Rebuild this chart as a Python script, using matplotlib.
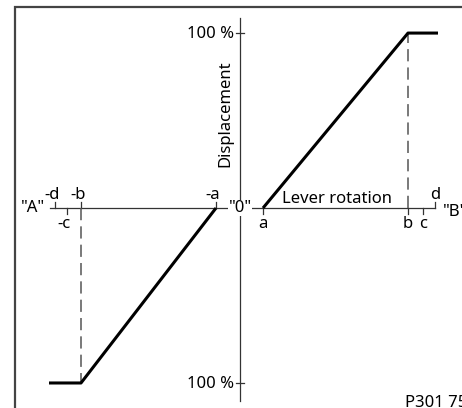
"""
Lever rotation vs displacement characteristic (P301 752).
"""

import matplotlib.pyplot as plt
from matplotlib.patches import Rectangle

plt.rcParams['font.family'] = ['Noto Sans', 'DejaVu Sans']

# lever rotation positions (arbitrary units)
tick_names = ["-d", "-c", "-b", "-a", "a", "b", "c", "d"]
tick_pos = [-185, -173, -159, -24, 23, 168, 183, 195]
tick_side = ["up", "down", "up", "up", "down", "down", "down", "up"]

# displacement curve (percent)
right_x = [23, 168, 198]
right_y = [0, 100, 100]
left_x = [-24, -159, -191]
left_y = [0, -100, -100]

full_scale = 100

FS = 12

fig = plt.figure(figsize=(4.62, 4.08), dpi=100)
ax = fig.add_axes([0, 0, 1, 1])
ax.set_xlim(-240, 222)
ax.set_ylim(-114.3, 118.9)
ax.axis('off')

# frame
fig.patches.append(Rectangle((15 / 462, -0.1), 1.2, 1 - 7 / 408 + 0.1, transform=fig.transFigure,
                             fill=False, edgecolor='#444444', linewidth=1.6))

# axes
ax.plot([-190, 195], [0, 0], color='#333333', lw=0.9)
ax.plot([0, 0], [-110.3, 108.6], color='#333333', lw=0.9)

tick_len = 3.4
for name, pos, side in zip(tick_names, tick_pos, tick_side):
    dx = -3 if name.startswith("-") else 0
    if side == "up":
        ax.plot([pos, pos], [0, tick_len], color='#333333', lw=0.9)
        ax.text(pos + dx, 5.2, name, ha='center', va='baseline', fontsize=FS)
    else:
        ax.plot([pos, pos], [0, -tick_len], color='#333333', lw=0.9)
        ax.text(pos + dx, -11.5, name, ha='center', va='baseline', fontsize=FS)

for yv in [full_scale, -full_scale]:
    ax.plot([-4, 4], [yv, yv], color='#333333', lw=0.9)
    ax.text(-6, yv - 0.6, "100 %", ha='right', va='center', fontsize=FS)

# dashed guides
ax.plot([right_x[1], right_x[1]], [0, right_y[1]], color='#555555', lw=1.1, dashes=(8, 4))
ax.plot([left_x[1], left_x[1]], [0, left_y[1]], color='#555555', lw=1.1, dashes=(8, 4))

# characteristic
ax.plot(right_x, right_y, color='black', lw=2.2, solid_capstyle='butt')
ax.plot(left_x, left_y, color='black', lw=2.2, solid_capstyle='butt')

ax.text(0, -2.3, '"0"', ha='center', va='baseline', fontsize=FS,
        bbox=dict(facecolor='white', edgecolor='none', pad=0.3))
ax.text(-207, -2.3, '"A"', ha='center', va='baseline', fontsize=FS)
ax.text(203, -4.6, '"B"', ha='left', va='baseline', fontsize=FS)
ax.text(97, 2.9, "Lever rotation", ha='center', va='baseline', fontsize=FS)
ax.text(-15, 54, "Displacement", ha='center', va='center', rotation=90, fontsize=FS)
ax.text(165, -113.7, "P301 752", ha='left', va='baseline', fontsize=FS)

fig.savefig("out.png", dpi=100)
